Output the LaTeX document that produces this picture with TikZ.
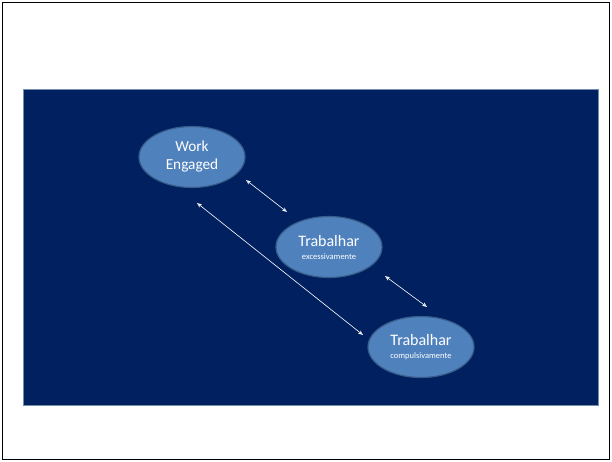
\documentclass[tikz,border=0pt]{standalone}
\usepackage{fontspec}
\setmainfont{Carlito}
\usetikzlibrary{shapes.geometric,arrows.meta}
\definecolor{navy}{HTML}{002060}
\definecolor{ellfill}{HTML}{4F81BD}
\definecolor{elldraw}{HTML}{385D8A}
\tikzset{
  ell/.style={ellipse, fill=ellfill, draw=elldraw, line width=1.2pt, minimum width=106pt, minimum height=61pt, inner sep=0pt, text=white, align=center},
  link/.style={white, line width=0.6pt, {Stealth[length=5pt,width=4pt,open]}-{Stealth[length=5pt,width=4pt,open]}}
}
\begin{document}
\begin{tikzpicture}[x=1pt,y=-1pt]
\useasboundingbox (0,0) rectangle (612,462);
\draw[black, line width=1.5pt] (2.5,2.5) rectangle (609.5,459.5);
\fill[navy] (23,89) rectangle (598,405);
\draw[elldraw!70, line width=0.8pt] (23,89) rectangle (598,405);
\node[ell, font=\fontsize{15.3}{18}\selectfont] (we) at (192,157) {Work\\Engaged};
\node[ell] (te) at (329,247) {\fontsize{16}{16}\selectfont Trabalhar\\[1pt]\fontsize{8.5}{9}\selectfont excessivamente};
\node[ell] (tc) at (421,347) {\fontsize{16}{16}\selectfont Trabalhar\\[1pt]\fontsize{8.5}{9}\selectfont compulsivamente};
\coordinate (a1) at (246,180);
\coordinate (a2) at (287,212);
\coordinate (b1) at (385,276);
\coordinate (b2) at (427,307);
\coordinate (c1) at (197,203);
\coordinate (c2) at (363,335);
\draw[link] (a1) -- (a2);
\draw[link] (b1) -- (b2);
\draw[link] (c1) -- (c2);
\end{tikzpicture}
\end{document}
